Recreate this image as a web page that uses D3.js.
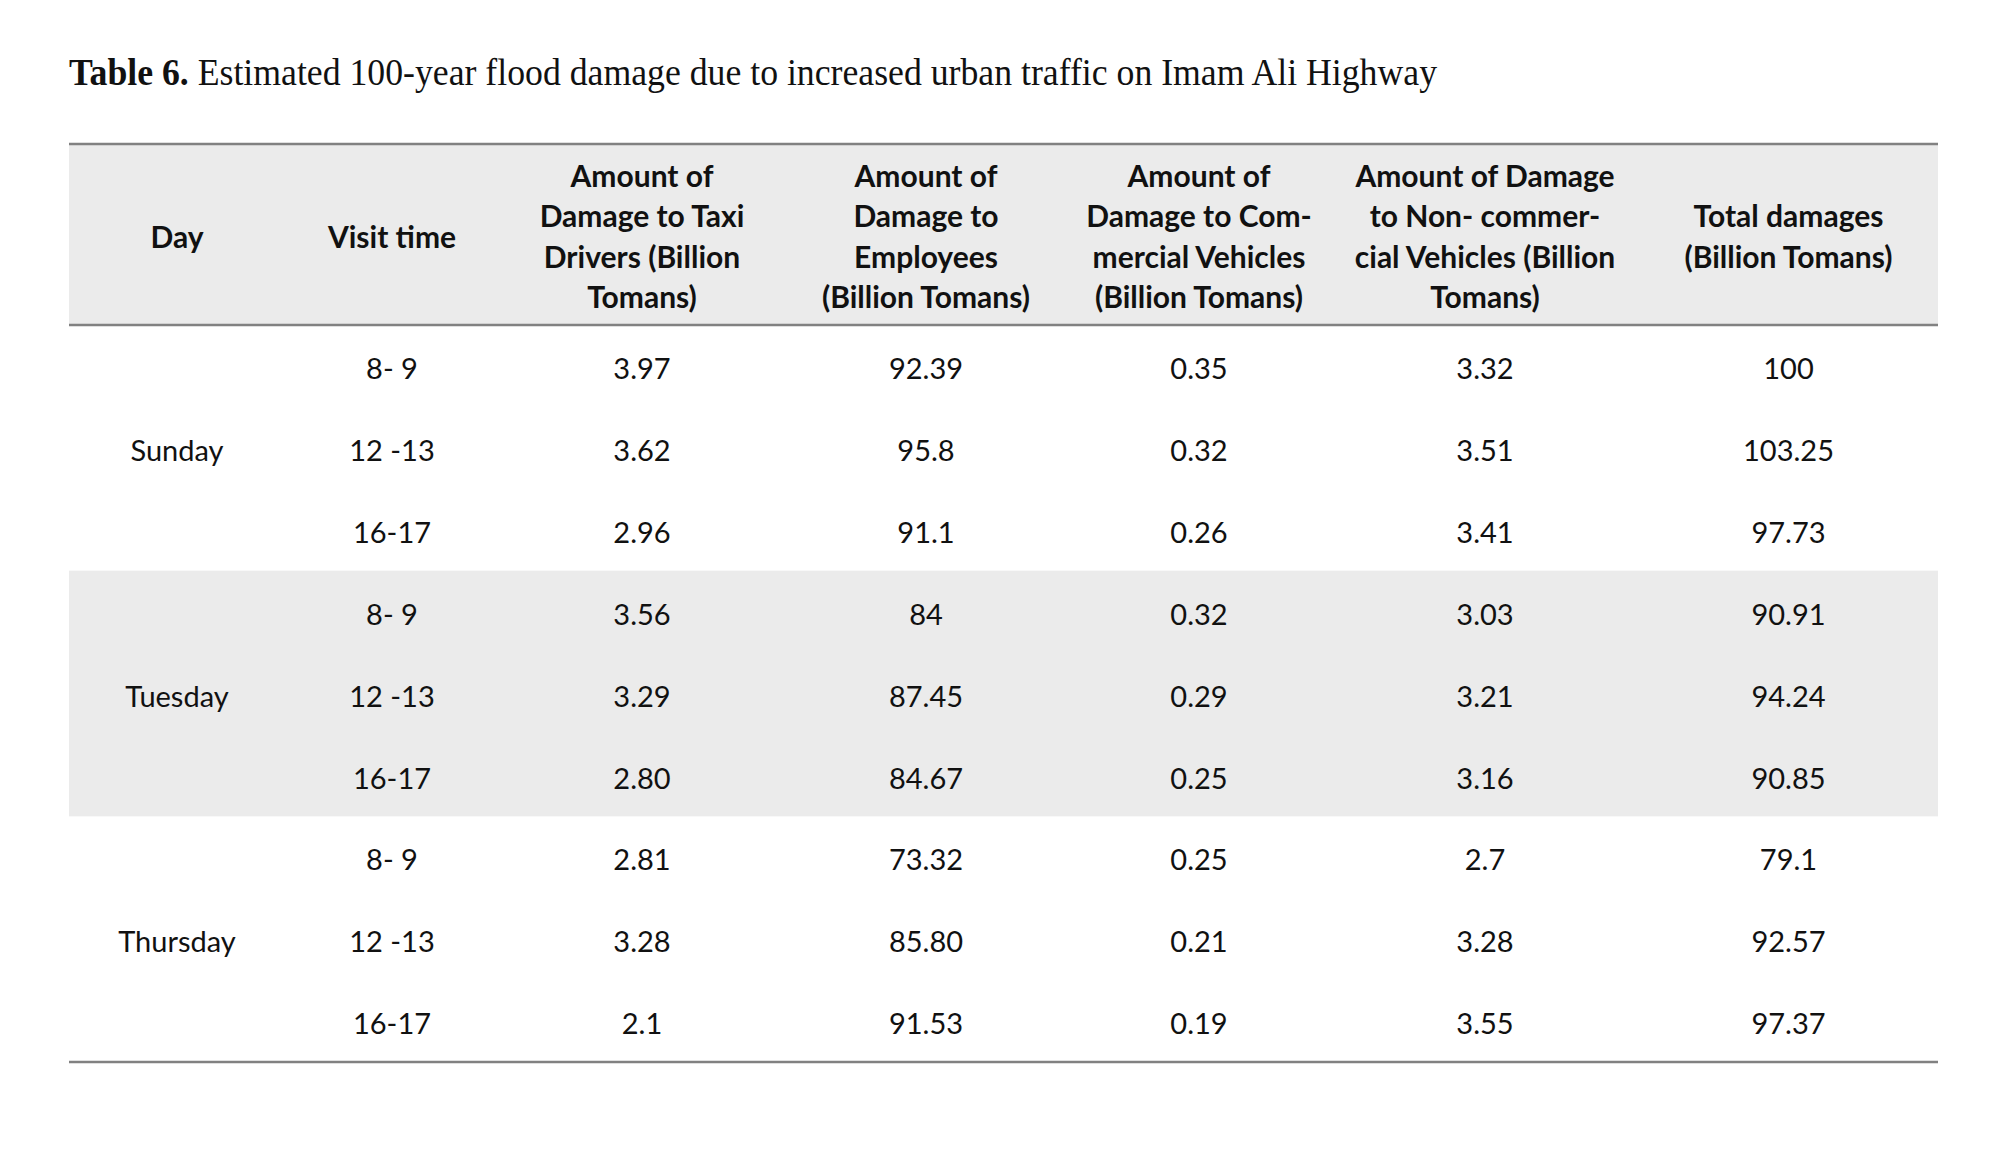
<!DOCTYPE html>
<html>
<head>
<meta charset="utf-8">
<script src="https://cdn.jsdelivr.net/npm/d3@7"></script>
<style>
  html, body { margin: 0; padding: 0; background: #ffffff; }
  svg { display: block; }
</style>
</head>
<body>
<script>
// ---------------- data ----------------
const titleBold = "Table 6.";
const titleRest = " Estimated 100-year flood damage due to increased urban traffic on Imam Ali Highway";

const headers = [
  ["Day"],
  ["Visit time"],
  ["Amount of", "Damage to Taxi", "Drivers (Billion", "Tomans)"],
  ["Amount of", "Damage to", "Employees", "(Billion Tomans)"],
  ["Amount of", "Damage to Com-", "mercial Vehicles", "(Billion Tomans)"],
  ["Amount of Damage", "to Non- commer-", "cial Vehicles (Billion", "Tomans)"],
  ["Total damages", "(Billion Tomans)"]
];

const days = ["Sunday", "Tuesday", "Thursday"];
const visitTimes = ["8- 9", "12 -13", "16-17"];

const taxiDrivers   = ["3.97", "3.62", "2.96", "3.56", "3.29", "2.80", "2.81", "3.28", "2.1"];
const employees     = ["92.39", "95.8", "91.1", "84", "87.45", "84.67", "73.32", "85.80", "91.53"];
const commercial    = ["0.35", "0.32", "0.26", "0.32", "0.29", "0.25", "0.25", "0.21", "0.19"];
const nonCommercial = ["3.32", "3.51", "3.41", "3.03", "3.21", "3.16", "2.7", "3.28", "3.55"];
const totalDamages  = ["100", "103.25", "97.73", "90.91", "94.24", "90.85", "79.1", "92.57", "97.37"];

// ---------------- layout ----------------
const W = 2000, H = 1155;
const left = 69, right = 1938;
const topLine = 144, headBottom = 325, bottomLine = 1062;
const colWeights = [216, 214, 286, 282, 264, 308, 299];
const gray = "#ebebeb";
const ruleColor = "#818181";
const sansFont = "Lato, Carlito, Calibri, 'Open Sans', sans-serif";

const rows = [];
days.forEach((d, gi) => visitTimes.forEach((t, ti) => {
  const i = gi * visitTimes.length + ti;
  rows.push({
    group: gi, day: d, time: t,
    cells: [taxiDrivers[i], employees[i], commercial[i], nonCommercial[i], totalDamages[i]]
  });
}));

const svg = d3.select("body").append("svg")
  .attr("width", W).attr("height", H)
  .attr("viewBox", `0 0 ${W} ${H}`);

svg.append("rect").attr("width", W).attr("height", H).attr("fill", "#fff");

// column scale: cumulative boundaries
const cum = [0];
colWeights.forEach(w => cum.push(cum[cum.length - 1] + w));
const xEdge = d3.scaleLinear().domain([0, cum[cum.length - 1]]).range([left, right]);
const colCenter = i => (xEdge(cum[i]) + xEdge(cum[i + 1])) / 2;

// row scale
const y = d3.scaleBand().domain(d3.range(rows.length)).range([headBottom, bottomLine]).padding(0);

// ---------------- title ----------------
const title = svg.append("text")
  .attr("x", left).attr("y", 85)
  .attr("font-family", "'Liberation Serif', 'Times New Roman', serif")
  .attr("font-size", 38)
  .attr("fill", "#111")
  .attr("textLength", 1368)
  .attr("lengthAdjust", "spacingAndGlyphs");
title.append("tspan").attr("font-weight", "bold").text(titleBold);
title.append("tspan").text(titleRest);

// ---------------- backgrounds ----------------
svg.append("rect")
  .attr("x", left).attr("y", topLine)
  .attr("width", right - left).attr("height", headBottom - topLine)
  .attr("fill", gray);

// shaded middle group (Tuesday)
const shaded = [1];
svg.selectAll("rect.band").data(shaded).enter().append("rect")
  .attr("class", "band")
  .attr("x", left)
  .attr("y", g => y(g * visitTimes.length))
  .attr("width", right - left)
  .attr("height", y.bandwidth() * visitTimes.length)
  .attr("fill", gray);

// ---------------- rules ----------------
svg.selectAll("line.rule").data([topLine, headBottom, bottomLine]).enter().append("line")
  .attr("class", "rule")
  .attr("x1", left).attr("x2", right)
  .attr("y1", d => d).attr("y2", d => d)
  .attr("stroke", ruleColor).attr("stroke-width", 2.5);

// ---------------- header ----------------
const headMid = 237, lineGap = 40.5;
const hg = svg.selectAll("g.head").data(headers).enter().append("g")
  .attr("class", "head");
hg.selectAll("text").data((lines, ci) => lines.map((l, k) => ({ l, k, n: lines.length, ci })))
  .enter().append("text")
  .attr("x", d => colCenter(d.ci))
  .attr("y", d => headMid + (d.k - (d.n - 1) / 2) * lineGap)
  .attr("dy", "0.35em")
  .attr("text-anchor", "middle")
  .attr("font-family", sansFont)
  .attr("font-weight", "bold")
  .attr("font-size", 30)
  .attr("fill", "#111")
  .text(d => d.l);

// ---------------- body ----------------
const bodyFont = 29, bodyOffset = 3;
const rowCenter = i => y(i) + y.bandwidth() / 2 + bodyOffset;

// Day labels (middle row of each group)
svg.selectAll("text.day").data(days).enter().append("text")
  .attr("class", "day")
  .attr("x", colCenter(0))
  .attr("y", (d, gi) => rowCenter(gi * visitTimes.length + (visitTimes.length - 1) / 2))
  .attr("dy", "0.35em")
  .attr("text-anchor", "middle")
  .attr("font-family", sansFont)
  .attr("font-size", bodyFont)
  .attr("fill", "#111")
  .text(d => d);

const rg = svg.selectAll("g.row").data(rows).enter().append("g").attr("class", "row");
rg.selectAll("text")
  .data((r, i) => [r.time].concat(r.cells).map((v, c) => ({ v, c: c + 1, i })))
  .enter().append("text")
  .attr("x", d => colCenter(d.c))
  .attr("y", d => rowCenter(d.i))
  .attr("dy", "0.35em")
  .attr("text-anchor", "middle")
  .attr("font-family", sansFont)
  .attr("font-size", bodyFont)
  .attr("fill", "#111")
  .text(d => d.v);
</script>
</body>
</html>
